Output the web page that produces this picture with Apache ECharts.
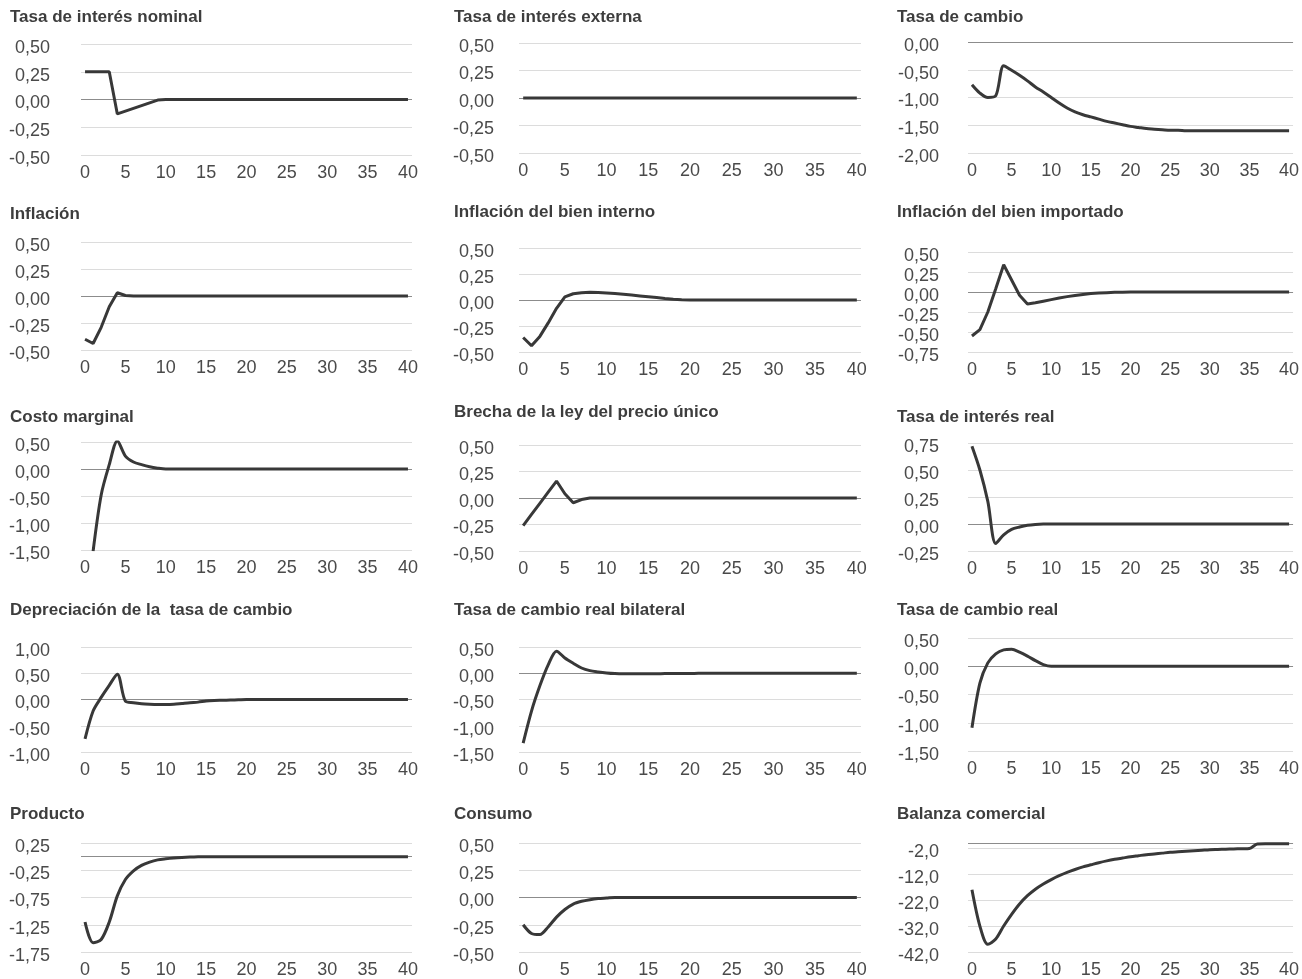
<!DOCTYPE html>
<html lang="es">
<head>
<meta charset="UTF-8">
<title>Respuestas a un choque</title>
<style>
  html, body { margin: 0; padding: 0; background: #fff; }
  #main { width: 1302px; height: 979px; }
</style>
</head>
<body>
<div id="main"></div>
<script src="https://cdn.jsdelivr.net/npm/echarts@6/dist/echarts.min.js"></script>
<script>
// periodos (eje x)
var periodos = [0,1,2,3,4,5,6,7,8,9,10,11,12,13,14,15,16,17,18,19,20,
                21,22,23,24,25,26,27,28,29,30,31,32,33,34,35,36,37,38,39,40];

// series
var tasaInteresNominal = [0.25,0.25,0.25,0.25,-0.13,-0.105,-0.08,-0.055,-0.03,-0.005,0,
  0,0,0,0,0,0,0,0,0,0,0,0,0,0,0,0,0,0,0,0,0,0,0,0,0,0,0,0,0,0];
var tasaInteresExterna = [0,0,0,0,0,0,0,0,0,0,0,0,0,0,0,0,0,0,0,0,0,
  0,0,0,0,0,0,0,0,0,0,0,0,0,0,0,0,0,0,0,0];
var tasaCambio = [-0.77,-0.92,-1.0,-0.97,-0.43,-0.51,-0.6,-0.7,-0.81,-0.9,-1.0,
  -1.1,-1.19,-1.26,-1.31,-1.35,-1.39,-1.43,-1.46,-1.49,-1.52,-1.54,-1.56,-1.57,-1.58,
  -1.59,-1.59,-1.6,-1.6,-1.6,-1.6,-1.6,-1.6,-1.6,-1.6,-1.6,-1.6,-1.6,-1.6,-1.6,-1.6];
var inflacion = [-0.4,-0.44,-0.29,-0.1,0.03,0.005,0,0,0,0,0,
  0,0,0,0,0,0,0,0,0,0,0,0,0,0,0,0,0,0,0,0,0,0,0,0,0,0,0,0,0,0];
var inflacionInterno = [-0.36,-0.44,-0.35,-0.22,-0.08,0.03,0.06,0.07,0.074,0.072,0.068,
  0.062,0.055,0.047,0.039,0.031,0.023,0.015,0.008,0.003,0,
  0,0,0,0,0,0,0,0,0,0,0,0,0,0,0,0,0,0,0,0];
var inflacionImportado = [-0.55,-0.47,-0.25,0.04,0.34,0.15,-0.04,-0.15,-0.135,-0.115,-0.095,
  -0.075,-0.058,-0.043,-0.03,-0.02,-0.013,-0.008,-0.004,-0.002,0,
  0,0,0,0,0,0,0,0,0,0,0,0,0,0,0,0,0,0,0,0];
var costoMarginal = [null,-1.52,-0.48,0.08,0.52,0.24,0.13,0.08,0.04,0.015,0,
  0,0,0,0,0,0,0,0,0,0,0,0,0,0,0,0,0,0,0,0,0,0,0,0,0,0,0,0,0,0];
var brechaPrecioUnico = [-0.26,-0.155,-0.05,0.055,0.16,0.04,-0.045,-0.015,0,0,0,
  0,0,0,0,0,0,0,0,0,0,0,0,0,0,0,0,0,0,0,0,0,0,0,0,0,0,0,0,0,0];
var tasaInteresReal = [0.72,0.5,0.21,-0.18,-0.1,-0.05,-0.028,-0.012,-0.004,0,0,
  0,0,0,0,0,0,0,0,0,0,0,0,0,0,0,0,0,0,0,0,0,0,0,0,0,0,0,0,0,0];
var depreciacion = [-0.75,-0.22,0.04,0.27,0.48,-0.03,-0.06,-0.08,-0.09,-0.095,-0.095,
  -0.09,-0.075,-0.06,-0.05,-0.03,-0.02,-0.015,-0.01,-0.005,0,
  0,0,0,0,0,0,0,0,0,0,0,0,0,0,0,0,0,0,0,0];
var cambioRealBilateral = [-1.33,-0.72,-0.24,0.16,0.42,0.29,0.19,0.1,0.05,0.025,0.006,
  -0.006,-0.01,-0.01,-0.01,-0.01,-0.008,-0.007,-0.006,-0.005,-0.005,
  0,0,0,0,0,0,0,0,0,0,0,0,0,0,0,0,0,0,0,0];
var cambioReal = [-1.09,-0.3,0.06,0.22,0.29,0.3,0.25,0.18,0.1,0.03,0,
  0,0,0,0,0,0,0,0,0,0,0,0,0,0,0,0,0,0,0,0,0,0,0,0,0,0,0,0,0,0];
var producto = [-1.2,-1.58,-1.52,-1.2,-0.72,-0.42,-0.26,-0.16,-0.1,-0.06,-0.04,
  -0.025,-0.015,-0.008,-0.003,0,0,0,0,0,0,
  0,0,0,0,0,0,0,0,0,0,0,0,0,0,0,0,0,0,0,0];
var consumo = [-0.25,-0.33,-0.34,-0.27,-0.18,-0.11,-0.06,-0.035,-0.02,-0.01,-0.005,
  0,0,0,0,0,0,0,0,0,0,0,0,0,0,0,0,0,0,0,0,0,0,0,0,0,0,0,0,0,0];
var balanzaComercial = [-18,-32,-39,-37,-32,-27.5,-23.5,-20.3,-17.8,-15.8,-14.1,
  -12.6,-11.3,-10.2,-9.2,-8.4,-7.6,-6.9,-6.3,-5.8,-5.3,
  -4.9,-4.5,-4.2,-3.9,-3.6,-3.4,-3.2,-3.0,-2.8,-2.6,
  -2.5,-2.4,-2.3,-2.2,-2.1,-0.4,-0.3,-0.3,-0.3,-0.3];

var titulos = ['Tasa de interés nominal','Tasa de interés externa','Tasa de cambio',
  'Inflación','Inflación del bien interno','Inflación del bien importado',
  'Costo marginal','Brecha de la ley del precio único','Tasa de interés real',
  'Depreciación de la  tasa de cambio','Tasa de cambio real bilateral','Tasa de cambio real',
  'Producto','Consumo','Balanza comercial'];

var paneles = [
  {datos: tasaInteresNominal,  min: -0.5,  max: 0.5,  paso: 0.25, dec: 2, top: 44,  bottom: 155, ty: 19},
  {datos: tasaInteresExterna,  min: -0.5,  max: 0.5,  paso: 0.25, dec: 2, top: 43,  bottom: 153, ty: 19},
  {datos: tasaCambio,          min: -2,    max: 0,    paso: 0.5,  dec: 2, top: 42,  bottom: 153, ty: 19, suave: true},
  {datos: inflacion,           min: -0.5,  max: 0.5,  paso: 0.25, dec: 2, top: 242, bottom: 350, ty: 216},
  {datos: inflacionInterno,    min: -0.5,  max: 0.5,  paso: 0.25, dec: 2, top: 248, bottom: 352, ty: 214},
  {datos: inflacionImportado,  min: -0.75, max: 0.5,  paso: 0.25, dec: 2, top: 252, bottom: 352, ty: 214},
  {datos: costoMarginal,       min: -1.5,  max: 0.5,  paso: 0.5,  dec: 2, top: 442, bottom: 550, ty: 419, suave: true},
  {datos: brechaPrecioUnico,   min: -0.5,  max: 0.5,  paso: 0.25, dec: 2, top: 445, bottom: 551, ty: 414},
  {datos: tasaInteresReal,     min: -0.25, max: 0.75, paso: 0.25, dec: 2, top: 443, bottom: 551, ty: 419, suave: true},
  {datos: depreciacion,        min: -1,    max: 1,    paso: 0.5,  dec: 2, top: 647, bottom: 752, ty: 612, suave: true},
  {datos: cambioRealBilateral, min: -1.5,  max: 0.5,  paso: 0.5,  dec: 2, top: 647, bottom: 752, ty: 612, suave: true},
  {datos: cambioReal,          min: -1.5,  max: 0.5,  paso: 0.5,  dec: 2, top: 638, bottom: 751, ty: 612, suave: true},
  {datos: producto,            min: -1.75, max: 0.25, paso: 0.5,  dec: 2, top: 843, bottom: 954, ty: 816, suave: true},
  {datos: consumo,             min: -0.5,  max: 0.5,  paso: 0.25, dec: 2, top: 843, bottom: 956, ty: 816, suave: true},
  {datos: balanzaComercial,    min: -42,   max: 0,    paso: 10,   dec: 1, top: 843, bottom: 958, ty: 816, suave: true}
];

var colLeft = [81, 519, 968];
var colWidth = [331, 342, 333];
var colMargen = [31, 25, 29];
var tituloX = [10, 454, 897];

var fuente = 'Liberation Sans, Arial, sans-serif';

var title = [], grid = [], xAxis = [], yAxis = [], series = [];

paneles.forEach(function (p, i) {
    var c = i % 3;
    title.push({
        text: titulos[i],
        left: tituloX[c],
        top: p.ty - 10,
        padding: 0,
        textStyle: {fontFamily: fuente, fontSize: 17, fontWeight: 'bold', color: '#3d3d3d'}
    });
    grid.push({left: colLeft[c], width: colWidth[c], top: p.top, height: p.bottom - p.top});
    xAxis.push({
        type: 'category', gridIndex: i, data: periodos, boundaryGap: true,
        axisLine: {show: false}, axisTick: {show: false}, splitLine: {show: false},
        axisLabel: {interval: 4, margin: 9, fontFamily: fuente, fontSize: 18, color: '#4a4a4a'}
    });
    yAxis.push({
        type: 'value', gridIndex: i, min: p.min, max: p.max, interval: p.paso,
        axisLine: {show: false}, axisTick: {show: false},
        splitLine: {lineStyle: {color: '#dcdcdc', width: 1}},
        axisLabel: {
            margin: colMargen[c], fontFamily: fuente, fontSize: 18, color: '#4a4a4a',
            verticalAlign: 'top', lineHeight: 8,
            formatter: function (v) {
                if (p.dec === 1 && v > -1) return '';
                return v.toFixed(p.dec).replace('.', ',');
            }
        }
    });
    series.push({
        type: 'line', xAxisIndex: i, yAxisIndex: i, data: p.datos,
        symbol: 'none', smooth: p.suave ? 0.3 : false,
        lineStyle: {color: '#383838', width: 3},
        markLine: {
            silent: true, z: 1, symbol: ['none', 'none'], label: {show: false},
            lineStyle: {color: '#8c8c8c', width: 1, type: 'solid'},
            data: [{yAxis: 0}]
        }
    });
});

var myChart = echarts.init(document.getElementById('main'));
myChart.setOption({
    animation: false,
    backgroundColor: '#fff',
    title: title,
    grid: grid,
    xAxis: xAxis,
    yAxis: yAxis,
    series: series
});
</script>
</body>
</html>
